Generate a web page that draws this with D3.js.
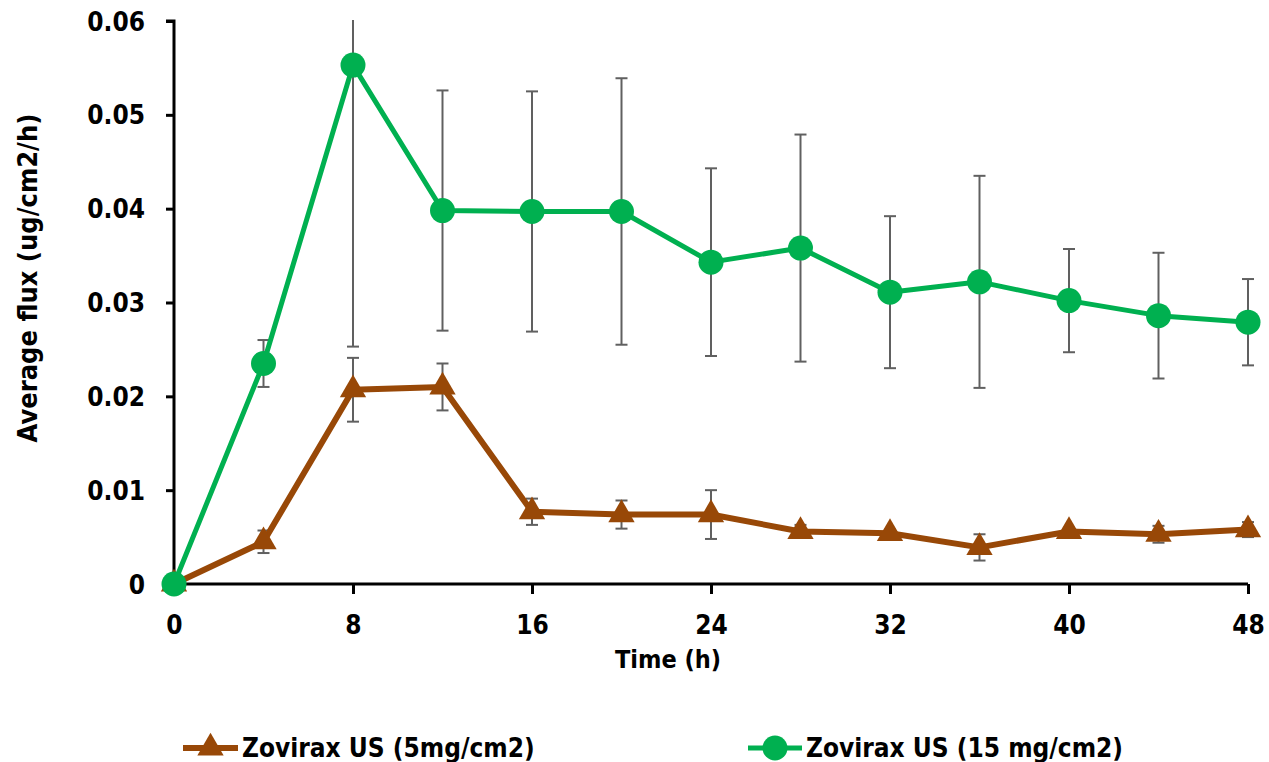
<!DOCTYPE html>
<html><head><meta charset="utf-8">
<script src="https://cdn.jsdelivr.net/npm/d3@7"></script>
<style>
body{margin:0;background:#fff;}
text{font-family:"Liberation Sans Narrow","DejaVu Sans Condensed","Open Sans",sans-serif;font-weight:bold;fill:#000;}
</style></head>
<body><svg id="c" width="1269" height="762"></svg>
<script>
const times = [0,4,8,12,16,20,24,28,32,36,40,44,48];
const low = [0,0.0045,0.0207,0.0210,0.0077,0.0074,0.0074,0.0056,0.0054,0.0039,0.0056,0.0053,0.0058];
const lowErr = [0,0.0012,0.0034,0.0025,0.0014,0.0015,0.0026,0.0007,0.0004,0.0014,0.0004,0.0009,0.0008];
const high = [0,0.0235,0.0553,0.0398,0.0397,0.0397,0.0343,0.0358,0.0311,0.0322,0.0302,0.0286,0.0279];
const highErr = [0,0.0025,0.0300,0.0128,0.0128,0.0142,0.0100,0.0121,0.0081,0.0113,0.0055,0.0067,0.0046];
const xTicks = [0,8,16,24,32,40,48];
const yTicks = [0,0.01,0.02,0.03,0.04,0.05,0.06];
const seriesNames = ["Zovirax US (5mg/cm2)","Zovirax US (15 mg/cm2)"];
const xTitle = "Time (h)";
const yTitle = "Average flux (ug/cm2/h)";

const svg = d3.select("#c");
const x = d3.scaleLinear().domain([0,48]).range([174,1248]);
const y = d3.scaleLinear().domain([0,0.06]).range([584,21]);
const brown = "#984807", green = "#00B050", errCol = "#606060";

svg.append("defs").append("clipPath").attr("id","pc")
  .append("rect").attr("x",100).attr("y",20).attr("width",1169).attr("height",700);

const series = [
  {vals: low, err: lowErr, color: brown, shape: "tri", width: 6},
  {vals: high, err: highErr, color: green, shape: "circ", width: 5}
];

// error bars
const eb = svg.append("g").attr("clip-path","url(#pc)");
series.forEach(s=>{
  times.forEach((t,i)=>{
    if(s.err[i]<=0) return;
    const cx = x(t), y1 = y(s.vals[i]+s.err[i]), y2 = y(s.vals[i]-s.err[i]);
    eb.append("line").attr("x1",cx).attr("x2",cx).attr("y1",y1).attr("y2",y2)
      .attr("stroke",errCol).attr("stroke-width",2);
    [y1,y2].forEach(yy=>{
      if (yy < 21) return;
      eb.append("line").attr("x1",cx-6).attr("x2",cx+6).attr("y1",yy).attr("y2",yy)
        .attr("stroke",errCol).attr("stroke-width",2);
    });
  });
});

// axes
const yAxis = d3.axisLeft(y).tickValues(yTicks).tickSize(8).tickPadding(21)
  .tickFormat(d=> d===0 ? "0" : d3.format(".2f")(d));
const gy = svg.append("g").attr("transform","translate(174,0)").call(yAxis);
gy.select(".domain").attr("stroke","#000").attr("stroke-width",3).attr("d","M-8,21H0V584H-8");
gy.selectAll(".tick line").attr("stroke","#000").attr("stroke-width",3);
gy.selectAll(".tick text").attr("font-size",26).attr("dy","0.35em");

const xAxis = d3.axisBottom(x).tickValues(xTicks).tickSize(10).tickPadding(22);
const gx = svg.append("g").attr("transform","translate(0,584)").call(xAxis);
gx.select(".domain").attr("stroke","#000").attr("stroke-width",3).attr("d","M174,0H1248");
gx.selectAll(".tick line").attr("stroke","#000").attr("stroke-width",3);
gx.selectAll(".tick text").attr("font-size",26);

// lines and markers
const line = d3.line().x((d,i)=>x(times[i])).y(d=>y(d));
const tri = d3.symbol().type(d3.symbolTriangle).size(300);
series.forEach(s=>{
  svg.append("path").datum(s.vals).attr("d",line).attr("fill","none")
    .attr("stroke",s.color).attr("stroke-width",s.width).attr("stroke-linejoin","round");
  const g = svg.append("g");
  s.vals.forEach((v,i)=>{
    if(s.shape==="circ"){
      g.append("circle").attr("cx",x(times[i])).attr("cy",y(v)).attr("r",12.5).attr("fill",s.color);
    } else {
      g.append("path").attr("d",tri).attr("transform",`translate(${x(times[i])},${y(v)})`).attr("fill",s.color);
    }
  });
});

// titles
svg.append("text").attr("x",668).attr("y",668).attr("text-anchor","middle").attr("font-size",25).text(xTitle);
svg.append("text").attr("transform","translate(37,278) rotate(-90)").attr("text-anchor","middle").attr("font-size",27).text(yTitle);

// legend
const leg = [{x1:183,x2:238,tx:242,s:series[0]},{x1:748,x2:802,tx:806,s:series[1]}];
leg.forEach((l,i)=>{
  const ly = 748;
  svg.append("line").attr("x1",l.x1).attr("x2",l.x2).attr("y1",ly).attr("y2",ly)
    .attr("stroke",l.s.color).attr("stroke-width",l.s.width);
  const mx = (l.x1+l.x2)/2;
  if(l.s.shape==="circ") svg.append("circle").attr("cx",mx).attr("cy",ly).attr("r",12.5).attr("fill",l.s.color);
  else svg.append("path").attr("d",tri).attr("transform",`translate(${mx},${ly})`).attr("fill",l.s.color);
  svg.append("text").attr("x",l.tx).attr("y",ly).attr("dy","0.35em").attr("font-size",26).text(seriesNames[i]);
});
</script></body></html>
